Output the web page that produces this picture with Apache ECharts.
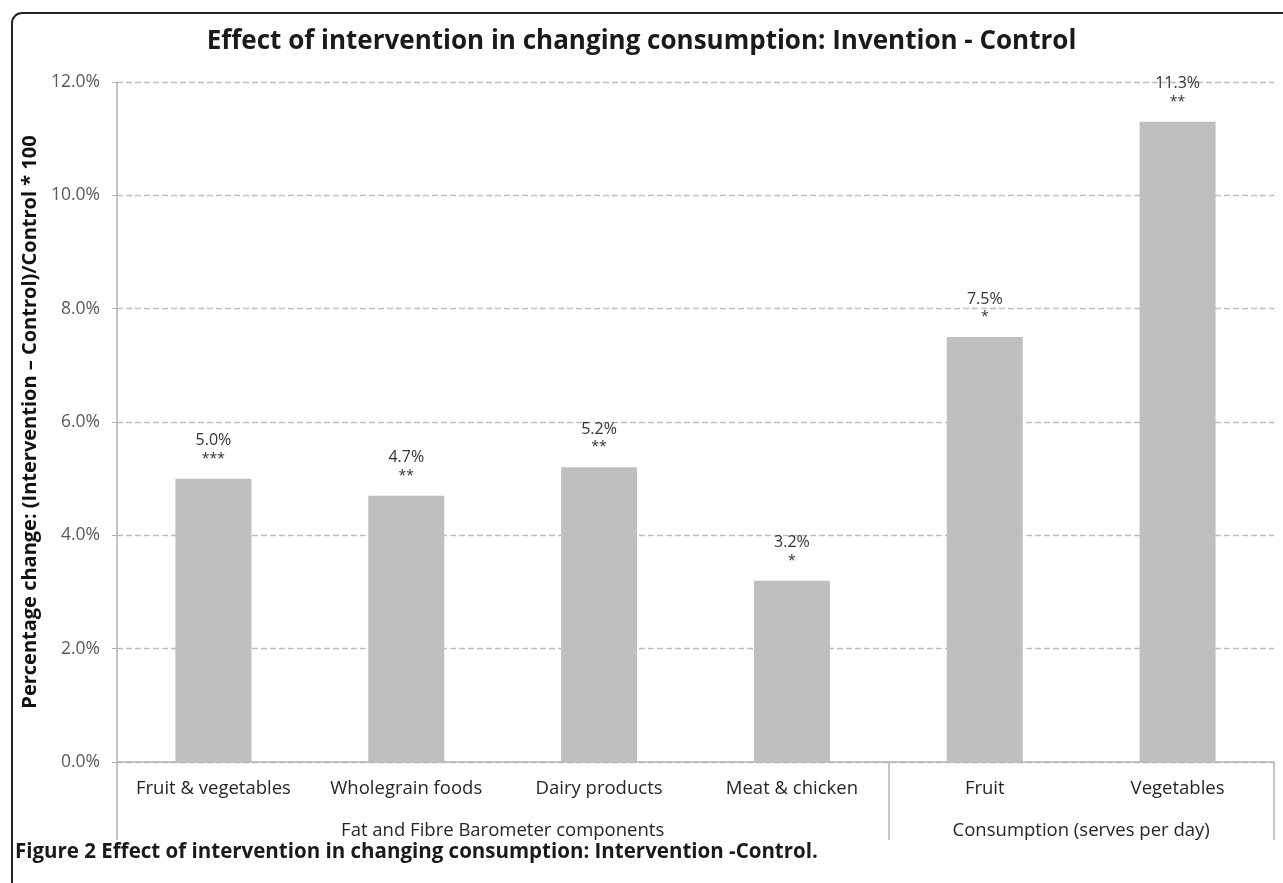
<!DOCTYPE html>
<html>
<head>
<meta charset="utf-8">
<script src="https://cdn.jsdelivr.net/npm/echarts@6/dist/echarts.min.js"></script>
<style>
html,body{margin:0;padding:0;background:#fff;}
#chart{width:1283px;height:883px;}
</style>
</head>
<body>
<div id="chart"></div>
<script>
const titleText = 'Effect of intervention in changing consumption: Invention - Control';
const captionText = 'Figure 2 Effect of intervention in changing consumption: Intervention -Control.';
const yAxisTitle = 'Percentage change: (Intervention \u2013 Control)/Control * 100';
const categories = ['Fruit & vegetables', 'Wholegrain foods', 'Dairy products', 'Meat & chicken', 'Fruit', 'Vegetables'];
const values = [5.0, 4.7, 5.2, 3.2, 7.5, 11.3];
const significance = ['***', '**', '**', '*', '*', '**'];
const groupNames = ['Fat and Fibre Barometer components', 'Consumption (serves per day)'];
const groupSizes = [4, 2];
const yTicks = [0, 2, 4, 6, 8, 10, 12];

// group boundaries and centers in category units
const boundaries = [0];
const centers = [];
groupSizes.forEach(s => {
  const start = boundaries[boundaries.length - 1];
  centers.push(start + s / 2);
  boundaries.push(start + s);
});

const FONT = '"Open Sans", "Noto Sans", sans-serif';
const chart = echarts.init(document.getElementById('chart'), null, {renderer: 'canvas'});

chart.setOption({
  backgroundColor: '#ffffff',
  animation: false,
  title: {
    text: titleText,
    left: 'center',
    top: 29,
    padding: 0,
    textStyle: {fontFamily: FONT, fontSize: 26, fontWeight: 'bold', color: '#1a1a1a'}
  },
  grid: {left: 117, right: 9, top: 82, bottom: 121, containLabel: false},
  xAxis: [
    {
      type: 'category',
      data: categories,
      boundaryGap: true,
      axisLine: {show: true, lineStyle: {color: '#b4b4b4', width: 1.5}},
      axisTick: {show: false},
      axisLabel: {fontFamily: FONT, fontSize: 18.5, color: '#262626', margin: 17, interval: 0}
    },
    {
      type: 'value',
      min: 0,
      max: categories.length,
      position: 'bottom',
      axisLine: {show: false},
      splitLine: {show: false},
      axisTick: {show: true, customValues: boundaries, length: 78, lineStyle: {color: '#b4b4b4', width: 1.5}},
      axisLabel: {
        customValues: centers,
        margin: 59,
        fontFamily: FONT, fontSize: 18.5, color: '#262626',
        formatter: function (v) {
          const i = centers.indexOf(v);
          return i >= 0 ? groupNames[i] : '';
        }
      }
    }
  ],
  yAxis: {
    type: 'value',
    min: yTicks[0],
    max: yTicks[yTicks.length - 1],
    interval: 2,
    name: yAxisTitle,
    nameLocation: 'middle',
    nameGap: 67,
    nameTextStyle: {fontFamily: FONT, fontSize: 20, fontWeight: 'bold', color: '#111'},
    axisLine: {show: true, lineStyle: {color: '#b4b4b4', width: 1.5}},
    axisTick: {show: true, length: 5, lineStyle: {color: '#b4b4b4'}},
    axisLabel: {
      fontFamily: FONT, fontSize: 17.5, color: '#595959', margin: 17,
      formatter: v => v.toFixed(1) + '%'
    },
    splitLine: {show: true, lineStyle: {color: '#bdbdbd', type: [6, 3], width: 1.3}}
  },
  series: [{
    type: 'bar',
    xAxisIndex: 0,
    data: values,
    barWidth: 76,
    itemStyle: {color: '#bfbfbf'},
    label: {
      show: true,
      position: 'top',
      distance: 11,
      formatter: p => '{v|' + p.value.toFixed(1) + '%}\n{s|' + significance[p.dataIndex] + '}',
      rich: {
        v: {fontFamily: FONT, fontSize: 16, color: '#333', lineHeight: 18, align: 'center'},
        s: {fontFamily: FONT, fontSize: 14, color: '#333', lineHeight: 18, align: 'center'}
      }
    }
  }],
  graphic: [
    {
      type: 'rect',
      shape: {x: 12, y: 13, width: 1320, height: 920, r: 10},
      style: {fill: 'none', stroke: '#222', lineWidth: 2},
      silent: true
    },
    {
      type: 'text',
      left: 15,
      top: 842,
      style: {text: captionText, fontFamily: FONT, fontSize: 20.5, fontWeight: 'bold', fill: '#1a1a1a'}
    }
  ]
});
</script>
</body>
</html>
